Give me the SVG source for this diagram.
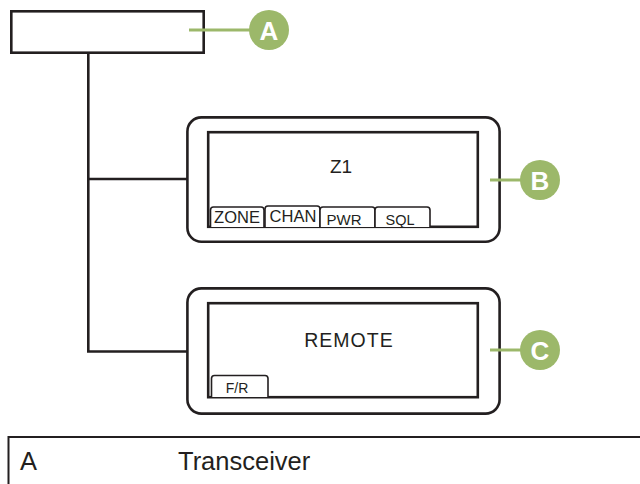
<svg xmlns="http://www.w3.org/2000/svg" width="640" height="484" viewBox="0 0 640 484">
<style>
.ln{fill:none;stroke:#231f20;stroke-width:2.6}
.tab{fill:#fff;stroke:#231f20;stroke-width:1.6}
.ld{fill:none;stroke:#9cb86a;stroke-width:3}
.cb{fill:#9cb86a}
.cl{font-family:"Liberation Sans",Arial,sans-serif;font-weight:bold;font-size:26px;fill:#fff;text-anchor:middle}
.t{font-family:"Liberation Sans",Arial,sans-serif;fill:#231f20}
</style>
<rect width="640" height="484" fill="#fff"/>
<g id="connectors">
<path class="ln" d="M88.3,53 V351.5 H187 M88.3,179 H187"/>
</g>
<g id="nodeA">
<rect class="ln" x="11.3" y="11.3" width="192.4" height="41.4"/>
<line class="ld" x1="189" y1="30" x2="252" y2="30"/>
<circle class="cb" cx="269" cy="30" r="20"/>
<text class="cl" x="269" y="39.5">A</text>
</g>
<g id="nodeB">
<rect class="ln" x="187.4" y="117.4" width="312.2" height="124.4" rx="14"/>
<rect class="ln" x="208.2" y="132.2" width="269.6" height="94.6"/>
<text class="t" x="341" y="172.5" font-size="19" text-anchor="middle">Z1</text>
<path class="tab" d="M210.5,227 V210 Q210.5,207 213.5,207 H261 Q264,207 264,210 V227"/>
<path class="tab" d="M265,227 V209 Q265,206 268,206 H317 Q320,206 320,209 V227"/>
<path class="tab" d="M320,227 V210 Q320,207 323,207 H372 Q375,207 375,210 V227"/>
<path class="tab" d="M375,227 V210 Q375,207 378,207 H427 Q430,207 430,210 V227"/>
<text class="t" x="237" y="223" font-size="16.5" text-anchor="middle">ZONE</text>
<text class="t" x="293" y="221.5" font-size="16.5" text-anchor="middle">CHAN</text>
<text class="t" x="344" y="225" font-size="15" text-anchor="middle">PWR</text>
<text class="t" x="400" y="225" font-size="14.5" text-anchor="middle">SQL</text>
<line class="ld" x1="490" y1="180" x2="522" y2="180"/>
<circle class="cb" cx="540" cy="180" r="20"/>
<text class="cl" x="540" y="189.5">B</text>
</g>
<g id="nodeC">
<rect class="ln" x="187.4" y="288.4" width="312.2" height="125.2" rx="14"/>
<rect class="ln" x="208.2" y="303.2" width="269.6" height="94"/>
<text class="t" x="349" y="347.3" font-size="19.5" letter-spacing="1" text-anchor="middle">REMOTE</text>
<path class="tab" d="M211.5,397 V378.5 Q211.5,375.5 214.5,375.5 H265 Q268,375.5 268,378.5 V397"/>
<text class="t" x="237" y="393" font-size="14" text-anchor="middle">F/R</text>
<line class="ld" x1="490" y1="350" x2="522" y2="350"/>
<circle class="cb" cx="540" cy="350" r="20"/>
<text class="cl" x="540" y="359.5">C</text>
</g>
<g id="legend">
<path d="M8.5,484 V437 H640" fill="none" stroke="#231f20" stroke-width="2"/>
<text class="t" x="20" y="470" font-size="25.5">A</text>
<text class="t" x="178" y="470" font-size="25.5">Transceiver</text>
</g>
</svg>
